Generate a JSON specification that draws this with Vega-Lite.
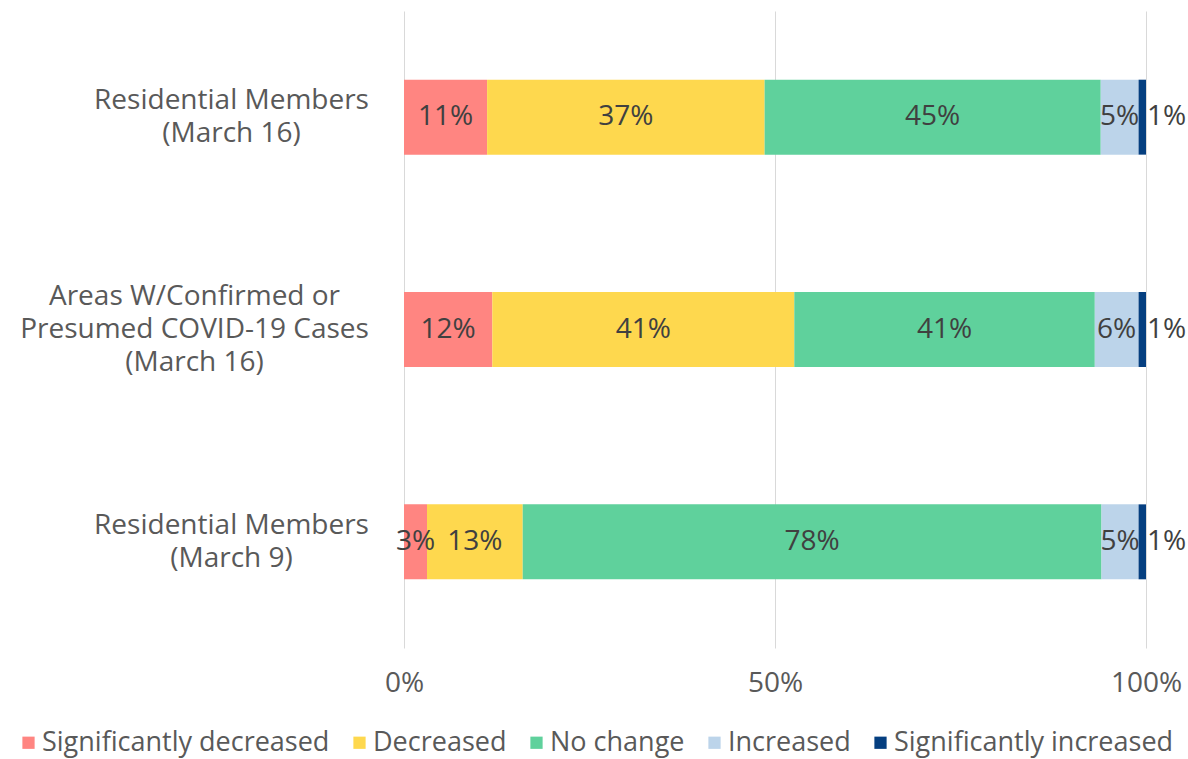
{
  "$schema": "https://vega.github.io/schema/vega-lite/v6.json",
  "width": 742,
  "height": 637,
  "autosize": {"type": "none"},
  "padding": {"left": 404, "top": 11, "right": 42, "bottom": 111},
  "background": "white",
  "config": {
    "view": {"stroke": null},
    "font": "Open Sans",
    "text": {"font": "Open Sans"}
  },
  "data": {
    "values": [
      {"group": "Residential Members|(March 16)", "category": "Significantly decreased", "order": 1, "share": 0.112},
      {"group": "Residential Members|(March 16)", "category": "Decreased", "order": 2, "share": 0.374},
      {"group": "Residential Members|(March 16)", "category": "No change", "order": 3, "share": 0.453},
      {"group": "Residential Members|(March 16)", "category": "Increased", "order": 4, "share": 0.051},
      {"group": "Residential Members|(March 16)", "category": "Significantly increased", "order": 5, "share": 0.01},
      {"group": "Areas W/Confirmed or|Presumed COVID-19 Cases|(March 16)", "category": "Significantly decreased", "order": 1, "share": 0.119},
      {"group": "Areas W/Confirmed or|Presumed COVID-19 Cases|(March 16)", "category": "Decreased", "order": 2, "share": 0.407},
      {"group": "Areas W/Confirmed or|Presumed COVID-19 Cases|(March 16)", "category": "No change", "order": 3, "share": 0.405},
      {"group": "Areas W/Confirmed or|Presumed COVID-19 Cases|(March 16)", "category": "Increased", "order": 4, "share": 0.059},
      {"group": "Areas W/Confirmed or|Presumed COVID-19 Cases|(March 16)", "category": "Significantly increased", "order": 5, "share": 0.01},
      {"group": "Residential Members|(March 9)", "category": "Significantly decreased", "order": 1, "share": 0.031},
      {"group": "Residential Members|(March 9)", "category": "Decreased", "order": 2, "share": 0.129},
      {"group": "Residential Members|(March 9)", "category": "No change", "order": 3, "share": 0.78},
      {"group": "Residential Members|(March 9)", "category": "Increased", "order": 4, "share": 0.05},
      {"group": "Residential Members|(March 9)", "category": "Significantly increased", "order": 5, "share": 0.01}
    ]
  },
  "transform": [
    {"stack": "share", "groupby": ["group"], "sort": [{"field": "order", "order": "ascending"}], "as": ["x0", "x1"], "offset": "normalize"},
    {"calculate": "(datum.x0 + datum.x1) / 2", "as": "xmid"}
  ],
  "encoding": {
    "y": {
      "field": "group",
      "type": "nominal",
      "sort": null,
      "scale": {"paddingInner": 0.647, "paddingOuter": 0.3235},
      "axis": {
        "title": null,
        "ticks": false,
        "domain": false,
        "labelExpr": "split(datum.value, '|')",
        "labelFont": "Open Sans",
        "labelFontSize": 28,
        "labelLineHeight": 33,
        "labelColor": "#595959",
        "labelAlign": "center",
        "labelBaseline": "middle",
        "labelLimit": 500,
        "labelPadding": {"condition": {"test": "indexof(datum.value, 'COVID') >= 0", "value": 210}, "value": 173},
        "labelOffset": {"condition": {"test": "indexof(datum.value, 'COVID') >= 0", "value": -33}, "value": -16}
      }
    }
  },
  "layer": [
    {
      "mark": {"type": "bar"},
      "encoding": {
        "x": {
          "field": "x0",
          "type": "quantitative",
          "scale": {"domain": [0, 1]},
          "axis": {
            "title": null,
            "values": [0, 0.5, 1],
            "format": ".0%",
            "grid": true,
            "gridColor": "#d9d9d9",
            "gridWidth": 1,
            "domain": false,
            "ticks": false,
            "labelFont": "Open Sans",
            "labelFontSize": 28,
            "labelColor": "#595959",
            "labelPadding": 21,
            "labelFlush": false
          }
        },
        "x2": {"field": "x1"},
        "color": {
          "field": "category",
          "type": "nominal",
          "sort": ["Significantly decreased", "Decreased", "No change", "Increased", "Significantly increased"],
          "scale": {
            "domain": ["Significantly decreased", "Decreased", "No change", "Increased", "Significantly increased"],
            "range": ["#FF8581", "#FED84E", "#5FD19C", "#BCD4EA", "#053F80"]
          },
          "legend": {
            "title": null,
            "orient": "none",
            "direction": "horizontal",
            "legendX": -389,
            "legendY": 718,
            "symbolType": "square",
            "symbolSize": 150,
            "symbolStrokeWidth": 0,
            "labelFont": "Open Sans",
            "labelFontSize": 27,
            "labelColor": "#595959",
            "labelOffset": 0,
            "columnPadding": 16,
            "labelLimit": 400
          }
        }
      }
    },
    {
      "transform": [{"filter": "datum.category != 'Significantly increased'"}],
      "mark": {"type": "text", "font": "Open Sans", "fontSize": 28, "color": "#404040", "baseline": "middle", "align": "center"},
      "encoding": {
        "x": {"field": "xmid", "type": "quantitative"},
        "text": {"field": "share", "type": "quantitative", "format": ".0%"}
      }
    },
    {
      "transform": [{"filter": "datum.category == 'Significantly increased'"}],
      "mark": {"type": "text", "font": "Open Sans", "fontSize": 28, "color": "#404040", "baseline": "middle", "align": "left", "dx": 1},
      "encoding": {
        "x": {"field": "x1", "type": "quantitative"},
        "text": {"field": "share", "type": "quantitative", "format": ".0%"}
      }
    }
  ]
}
